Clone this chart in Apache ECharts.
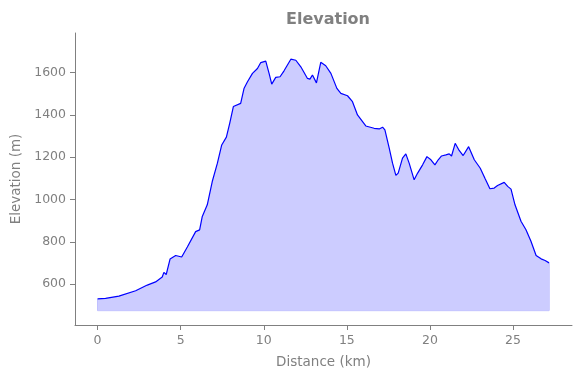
<!DOCTYPE html>
<html>
<head>
<meta charset="utf-8">
<script src="https://cdn.jsdelivr.net/npm/echarts@6/dist/echarts.min.js"></script>
<style>
  html, body { margin: 0; padding: 0; background: #fff; }
  #main { width: 580px; height: 378px; }
</style>
</head>
<body>
<div id="main"></div>
<script>
// distance along the route (km)
const distance = [0, 0.48, 1.28, 2.29, 2.99, 3.49, 3.89, 3.99, 4.13, 4.36, 4.70, 5.06, 5.40, 5.90, 6.14, 6.30, 6.60, 6.90, 7.21, 7.47, 7.75, 7.95, 8.17, 8.61, 8.81, 9.02, 9.32, 9.62, 9.82, 10.12, 10.32, 10.48, 10.72, 10.98, 11.22, 11.63, 11.93, 12.23, 12.63, 12.78, 12.93, 13.17, 13.43, 13.73, 14.04, 14.40, 14.64, 15.04, 15.34, 15.64, 16.14, 16.64, 16.95, 17.15, 17.29, 17.55, 17.75, 17.95, 18.09, 18.35, 18.55, 18.75, 19.05, 19.26, 19.56, 19.82, 20.06, 20.30, 20.50, 20.70, 20.96, 21.16, 21.30, 21.52, 21.76, 22.00, 22.33, 22.67, 23.03, 23.31, 23.61, 23.87, 24.07, 24.47, 24.68, 24.88, 25.12, 25.48, 25.78, 26.08, 26.39, 26.69, 26.93, 27.17]
// elevation (m)
const elevation = [530, 532, 543, 568, 595, 610, 633, 655, 645, 718, 735, 728, 775, 848, 856, 920, 975, 1085, 1172, 1258, 1295, 1360, 1440, 1455, 1525, 1557, 1597, 1620, 1648, 1655, 1597, 1546, 1578, 1581, 1609, 1664, 1659, 1628, 1573, 1570, 1589, 1552, 1649, 1633, 1597, 1526, 1502, 1491, 1463, 1400, 1348, 1337, 1334, 1342, 1329, 1243, 1172, 1114, 1125, 1196, 1216, 1172, 1093, 1125, 1164, 1203, 1188, 1164, 1188, 1206, 1211, 1216, 1206, 1266, 1232, 1208, 1250, 1188, 1148, 1101, 1051, 1054, 1066, 1081, 1062, 1049, 975, 897, 857, 802, 735, 719, 711, 700]
const baseElev = 474
const xTicks = [0, 5, 10, 15, 20, 25]
const yTicks = [600, 800, 1000, 1200, 1400, 1600]

const chart = echarts.init(document.getElementById('main'), null, { renderer: 'canvas' })

const profile = distance.map((d, i) => [d, elevation[i]])
const last = distance.length - 1
// outline of the filled region (bottom + side edges)
const edge = [[distance[0], elevation[0]], [distance[0], baseElev], [distance[last], baseElev], [distance[last], elevation[last]]]

const grey = '#808080'
const axisCommon = {
  axisLine: { show: true, onZero: false, lineStyle: { color: grey, width: 1 } },
  axisTick: { show: true, inside: false, length: 5, lineStyle: { color: grey } },
  splitLine: { show: false },
  nameTextStyle: { color: grey, fontFamily: 'DejaVu Sans', fontSize: 13.5 }
}
const labelStyle = { color: grey, fontFamily: 'DejaVu Sans', fontSize: 12.5, margin: 9, formatter: v => String(v) }

const option = {
  animation: false,
  backgroundColor: '#ffffff',
  title: {
    text: 'Elevation',
    left: 323,
    textAlign: 'center',
    top: 7,
    textStyle: { color: grey, fontFamily: 'DejaVu Sans', fontWeight: 'bold', fontSize: 16 }
  },
  grid: { left: 75, right: 8, top: 33, bottom: 53 },
  xAxis: Object.assign({}, axisCommon, {
    type: 'value',
    min: -1.36,
    max: 28.55,
    name: 'Distance (km)',
    nameLocation: 'middle',
    nameGap: 30,
    axisTick: Object.assign({}, axisCommon.axisTick, { customValues: xTicks }),
    axisLabel: Object.assign({}, labelStyle, { customValues: xTicks })
  }),
  yAxis: Object.assign({}, axisCommon, {
    type: 'value',
    min: 406,
    max: 1788,
    name: 'Elevation (m)',
    nameLocation: 'middle',
    nameRotate: 90,
    nameGap: 51,
    axisTick: Object.assign({}, axisCommon.axisTick, { customValues: yTicks }),
    axisLabel: Object.assign({}, labelStyle, { customValues: yTicks })
  }),
  series: [
    {
      type: 'line',
      data: edge,
      symbol: 'none',
      silent: true,
      lineStyle: { color: '#b0b0ff', width: 1 },
      z: 1
    },
    {
      type: 'line',
      data: profile,
      symbol: 'none',
      smooth: false,
      lineStyle: { color: '#0000ff', width: 1.2 },
      areaStyle: { color: '#ccccff', opacity: 1, origin: baseElev },
      z: 2
    }
  ]
}
chart.setOption(option)
</script>
</body>
</html>
